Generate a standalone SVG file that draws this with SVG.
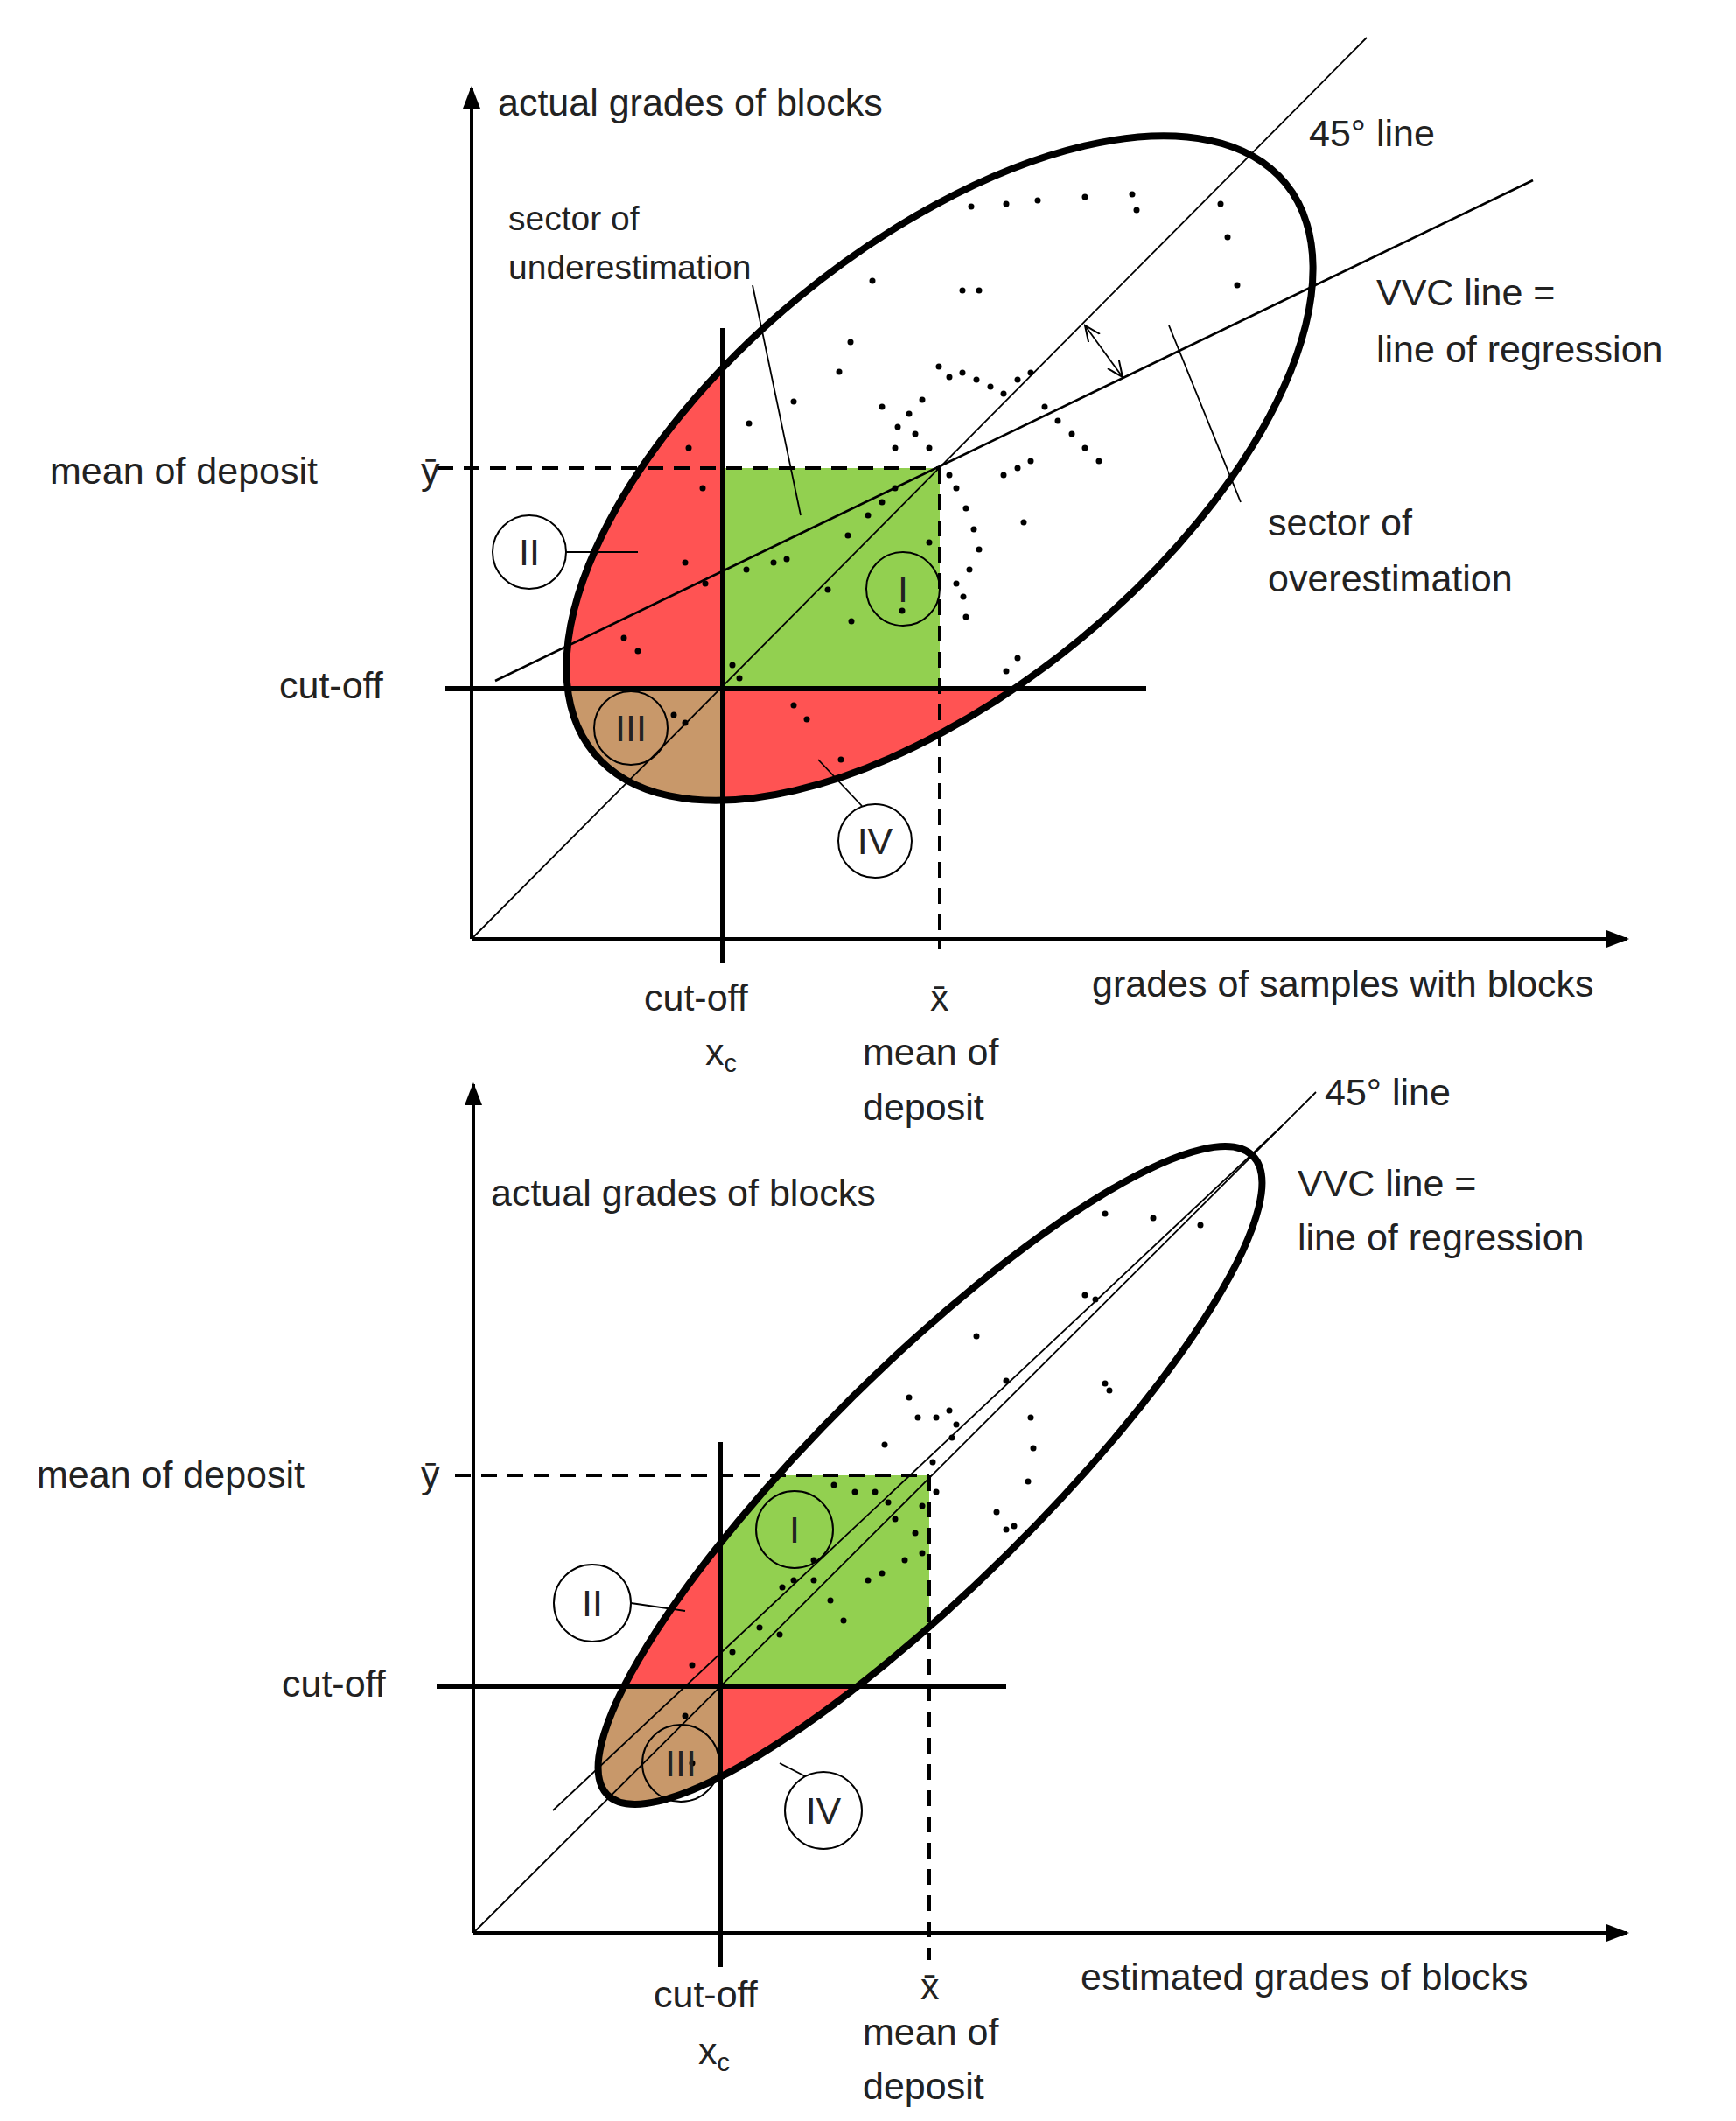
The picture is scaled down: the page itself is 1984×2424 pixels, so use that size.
<svg xmlns="http://www.w3.org/2000/svg" width="1984" height="2424" viewBox="0 0 1984 2424">
<style>
text{font-family:"Liberation Sans","DejaVu Sans",sans-serif;font-size:43px;fill:#222}
.sm{font-size:39px}
.ax{stroke:#000;stroke-width:4;fill:none}
.thin{stroke:#000;stroke-width:1.8;fill:none}
.med{stroke:#000;stroke-width:2.6;fill:none}
.thick{stroke:#000;stroke-width:6;fill:none}
.dash{stroke:#000;stroke-width:4;stroke-dasharray:18 12;fill:none}
.ell{stroke:#000;stroke-width:8;fill:none}
.c{fill:#fff;stroke:#000;stroke-width:2}
.red{fill:#ff5353}.grn{fill:#92d050}.tan{fill:#c8986a}
.d circle{fill:#000}
</style>
<defs>
<marker id="ah2" markerWidth="26" markerHeight="20" refX="24" refY="10" orient="auto" markerUnits="userSpaceOnUse"><path d="M0,0L26,10L0,20z" fill="#000"/></marker>
<marker id="oa" markerWidth="20" markerHeight="20" refX="18" refY="10" orient="auto-start-reverse" markerUnits="userSpaceOnUse"><path d="M0,2L18,10L0,18" fill="none" stroke="#000" stroke-width="2"/></marker>
<clipPath id="e1"><ellipse cx="1074" cy="535" rx="512" ry="253" transform="rotate(-39.5 1074 535)"/></clipPath>
<clipPath id="e2"><ellipse cx="1063" cy="1686" rx="519" ry="126" transform="rotate(-44.7 1063 1686)"/></clipPath>
</defs>

<!-- TOP -->
<g id="top-regions" clip-path="url(#e1)">
<rect class="red" x="400" y="0" width="426" height="787"/>
<rect class="grn" x="826" y="535" width="248" height="252"/>
<rect class="tan" x="400" y="787" width="426" height="400"/>
<rect class="red" x="826" y="787" width="700" height="400"/>
</g>
<g id="top-connectors">
<line class="ax" x1="539" y1="1073" x2="539" y2="100" marker-end="url(#ah2)"/>
<line class="ax" x1="539" y1="1073" x2="1860" y2="1073" marker-end="url(#ah2)"/>
<line class="thin" x1="539" y1="1073" x2="1562" y2="43"/>
<line class="med" x1="566" y1="778" x2="1752" y2="206"/>
<ellipse class="ell" cx="1074" cy="535" rx="512" ry="253" transform="rotate(-39.5 1074 535)"/>
<line class="thick" x1="826" y1="375" x2="826" y2="1100"/>
<line class="thick" x1="508" y1="787" x2="1310" y2="787"/>
<line class="dash" x1="500" y1="535" x2="1074" y2="535"/>
<line class="dash" x1="1074" y1="535" x2="1074" y2="1085"/>
<line class="thin" x1="860" y1="326" x2="915" y2="589"/>
<line class="thin" x1="1336" y1="372" x2="1418" y2="574"/>
<line class="thin" x1="1240" y1="372" x2="1283" y2="431" marker-start="url(#oa)" marker-end="url(#oa)"/>
<line class="thin" x1="647" y1="631" x2="729" y2="631"/>
<line class="thin" x1="985" y1="921" x2="935" y2="868"/>
</g>
<g class="d" id="top-dots">
<circle cx="1110" cy="236" r="3.5"/><circle cx="1150" cy="233" r="3.5"/><circle cx="1186" cy="229" r="3.5"/><circle cx="1240" cy="225" r="3.5"/><circle cx="1294" cy="222" r="3.5"/><circle cx="1299" cy="240" r="3.5"/><circle cx="1395" cy="233" r="3.5"/><circle cx="1403" cy="271" r="3.5"/><circle cx="1414" cy="326" r="3.5"/><circle cx="997" cy="321" r="3.5"/><circle cx="1100" cy="332" r="3.5"/><circle cx="1119" cy="332" r="3.5"/><circle cx="972" cy="391" r="3.5"/><circle cx="959" cy="425" r="3.5"/><circle cx="907" cy="459" r="3.5"/><circle cx="856" cy="484" r="3.5"/>
<circle cx="1073" cy="419" r="3.5"/><circle cx="1085" cy="431" r="3.5"/><circle cx="1100" cy="426" r="3.5"/><circle cx="1116" cy="434" r="3.5"/><circle cx="1132" cy="442" r="3.5"/><circle cx="1147" cy="450" r="3.5"/><circle cx="1163" cy="434" r="3.5"/><circle cx="1178" cy="426" r="3.5"/><circle cx="1054" cy="457" r="3.5"/><circle cx="1039" cy="473" r="3.5"/><circle cx="1026" cy="488" r="3.5"/><circle cx="1046" cy="496" r="3.5"/><circle cx="1062" cy="512" r="3.5"/><circle cx="1023" cy="512" r="3.5"/><circle cx="1008" cy="465" r="3.5"/><circle cx="1194" cy="465" r="3.5"/><circle cx="1209" cy="481" r="3.5"/><circle cx="1225" cy="496" r="3.5"/><circle cx="1240" cy="512" r="3.5"/><circle cx="1256" cy="527" r="3.5"/><circle cx="1178" cy="527" r="3.5"/><circle cx="1163" cy="535" r="3.5"/><circle cx="1147" cy="543" r="3.5"/><circle cx="1085" cy="543" r="3.5"/><circle cx="1093" cy="558" r="3.5"/><circle cx="1104" cy="581" r="3.5"/><circle cx="1113" cy="605" r="3.5"/><circle cx="1119" cy="628" r="3.5"/><circle cx="1108" cy="651" r="3.5"/><circle cx="1093" cy="667" r="3.5"/><circle cx="1170" cy="597" r="3.5"/><circle cx="1101" cy="682" r="3.5"/><circle cx="1104" cy="705" r="3.5"/><circle cx="1163" cy="752" r="3.5"/><circle cx="1150" cy="767" r="3.5"/>
<circle cx="1023" cy="558" r="3.5"/><circle cx="1008" cy="574" r="3.5"/><circle cx="992" cy="589" r="3.5"/><circle cx="969" cy="612" r="3.5"/><circle cx="884" cy="643" r="3.5"/><circle cx="899" cy="639" r="3.5"/><circle cx="853" cy="651" r="3.5"/><circle cx="806" cy="667" r="3.5"/><circle cx="783" cy="643" r="3.5"/><circle cx="803" cy="558" r="3.5"/><circle cx="787" cy="512" r="3.5"/><circle cx="729" cy="744" r="3.5"/><circle cx="713" cy="729" r="3.5"/><circle cx="837" cy="760" r="3.5"/><circle cx="845" cy="775" r="3.5"/><circle cx="907" cy="806" r="3.5"/><circle cx="922" cy="822" r="3.5"/><circle cx="961" cy="868" r="3.5"/><circle cx="770" cy="817" r="3.5"/><circle cx="783" cy="826" r="3.5"/><circle cx="1031" cy="698" r="3.5"/><circle cx="973" cy="710" r="3.5"/><circle cx="946" cy="674" r="3.5"/><circle cx="1062" cy="620" r="3.5"/>
</g>
<g id="top-I"><circle class="c" cx="1032" cy="673" r="42" fill-opacity="0"/><text x="1032" y="688" text-anchor="middle">I</text></g>
<g id="top-II"><circle class="c" cx="605" cy="631" r="42"/><text x="605" y="646" text-anchor="middle">II</text></g>
<g id="top-III"><circle class="c" cx="721" cy="832" r="42" fill-opacity="0"/><text x="721" y="847" text-anchor="middle">III</text></g>
<g id="top-IV"><circle class="c" cx="1000" cy="961" r="42"/><text x="1000" y="976" text-anchor="middle">IV</text></g>
<g id="top-labels">
<text x="569" y="132">actual grades of blocks</text>
<text x="1496" y="167">45° line</text>
<text class="sm" x="581" y="263">sector of</text>
<text class="sm" x="581" y="319">underestimation</text>
<text x="1573" y="349">VVC line =</text>
<text x="1573" y="414">line of regression</text>
<text x="57" y="553">mean of deposit</text>
<text x="481" y="553">ȳ</text>
<text x="1449" y="612">sector of</text>
<text x="1449" y="676">overestimation</text>
<text x="319" y="798">cut-off</text>
<text x="736" y="1155">cut-off</text>
<text x="1063" y="1155">x̄</text>
<text x="1248" y="1139">grades of samples with blocks</text>
<text x="806" y="1217">x<tspan font-size="29" dy="8">c</tspan></text>
<text x="986" y="1217">mean of</text>
<text x="986" y="1280">deposit</text>
</g>

<!-- BOTTOM -->
<g id="bot-regions" clip-path="url(#e2)">
<rect class="red" x="500" y="1400" width="323" height="527"/>
<rect class="grn" x="823" y="1686" width="239" height="241"/>
<rect class="tan" x="500" y="1927" width="323" height="300"/>
<rect class="red" x="823" y="1927" width="600" height="300"/>
</g>
<g id="bot-connectors">
<line class="ax" x1="541" y1="2209" x2="541" y2="1239" marker-end="url(#ah2)"/>
<line class="ax" x1="541" y1="2209" x2="1860" y2="2209" marker-end="url(#ah2)"/>
<line class="thin" x1="541" y1="2209" x2="1504" y2="1248"/>
<line class="thin" x1="632" y1="2069" x2="1465" y2="1287"/>
<ellipse class="ell" cx="1063" cy="1686" rx="519" ry="126" transform="rotate(-44.7 1063 1686)"/>
<line class="thick" x1="823" y1="1648" x2="823" y2="2248"/>
<line class="thick" x1="499" y1="1927" x2="1150" y2="1927"/>
<line class="dash" x1="520" y1="1686" x2="1062" y2="1686"/>
<line class="dash" x1="1062" y1="1686" x2="1062" y2="2240"/>
<line class="thin" x1="721" y1="1832" x2="783" y2="1841"/>
<line class="thin" x1="930" y1="2035" x2="891" y2="2015"/>
</g>
<g class="d" id="bot-dots">
<circle cx="1263" cy="1387" r="3.5"/><circle cx="1318" cy="1392" r="3.5"/><circle cx="1372" cy="1400" r="3.5"/><circle cx="1240" cy="1480" r="3.5"/><circle cx="1252" cy="1485" r="3.5"/><circle cx="1116" cy="1527" r="3.5"/><circle cx="1263" cy="1581" r="3.5"/><circle cx="1268" cy="1589" r="3.5"/><circle cx="1150" cy="1578" r="3.5"/><circle cx="1039" cy="1597" r="3.5"/><circle cx="1049" cy="1620" r="3.5"/><circle cx="1085" cy="1612" r="3.5"/><circle cx="1093" cy="1628" r="3.5"/><circle cx="1088" cy="1643" r="3.5"/><circle cx="1070" cy="1620" r="3.5"/><circle cx="1178" cy="1620" r="3.5"/><circle cx="1181" cy="1655" r="3.5"/><circle cx="1175" cy="1693" r="3.5"/><circle cx="1011" cy="1651" r="3.5"/><circle cx="1066" cy="1671" r="3.5"/><circle cx="1139" cy="1728" r="3.5"/><circle cx="1150" cy="1748" r="3.5"/><circle cx="1159" cy="1744" r="3.5"/>
<circle cx="953" cy="1697" r="3.5"/><circle cx="977" cy="1705" r="3.5"/><circle cx="1000" cy="1705" r="3.5"/><circle cx="1015" cy="1717" r="3.5"/><circle cx="1023" cy="1736" r="3.5"/><circle cx="1046" cy="1752" r="3.5"/><circle cx="1054" cy="1775" r="3.5"/><circle cx="1034" cy="1783" r="3.5"/><circle cx="1008" cy="1798" r="3.5"/><circle cx="992" cy="1806" r="3.5"/><circle cx="930" cy="1806" r="3.5"/><circle cx="907" cy="1806" r="3.5"/><circle cx="894" cy="1814" r="3.5"/><circle cx="949" cy="1829" r="3.5"/><circle cx="964" cy="1852" r="3.5"/><circle cx="930" cy="1783" r="3.5"/><circle cx="868" cy="1860" r="3.5"/><circle cx="891" cy="1868" r="3.5"/><circle cx="837" cy="1888" r="3.5"/><circle cx="791" cy="1903" r="3.5"/><circle cx="783" cy="1961" r="3.5"/><circle cx="791" cy="2015" r="3.5"/><circle cx="1054" cy="1721" r="3.5"/><circle cx="1070" cy="1705" r="3.5"/>
</g>
<g id="bot-I"><circle class="c" cx="908" cy="1748" r="44" fill-opacity="0"/><text x="908" y="1763" text-anchor="middle">I</text></g>
<g id="bot-II"><circle class="c" cx="677" cy="1832" r="44"/><text x="677" y="1847" text-anchor="middle">II</text></g>
<g id="bot-III"><circle class="c" cx="778" cy="2015" r="44" fill-opacity="0"/><text x="778" y="2030" text-anchor="middle">III</text></g>
<g id="bot-IV"><circle class="c" cx="941" cy="2069" r="44"/><text x="941" y="2084" text-anchor="middle">IV</text></g>
<g id="bot-labels">
<text x="1514" y="1263">45° line</text>
<text x="1483" y="1367">VVC line =</text>
<text x="1483" y="1429">line of regression</text>
<text x="561" y="1378">actual grades of blocks</text>
<text x="42" y="1700">mean of deposit</text>
<text x="481" y="1700">ȳ</text>
<text x="322" y="1939">cut-off</text>
<text x="747" y="2294">cut-off</text>
<text x="1052" y="2285">x̄</text>
<text x="1235" y="2274">estimated grades of blocks</text>
<text x="798" y="2359">x<tspan font-size="29" dy="8">c</tspan></text>
<text x="986" y="2337">mean of</text>
<text x="986" y="2399">deposit</text>
</g>
</svg>
